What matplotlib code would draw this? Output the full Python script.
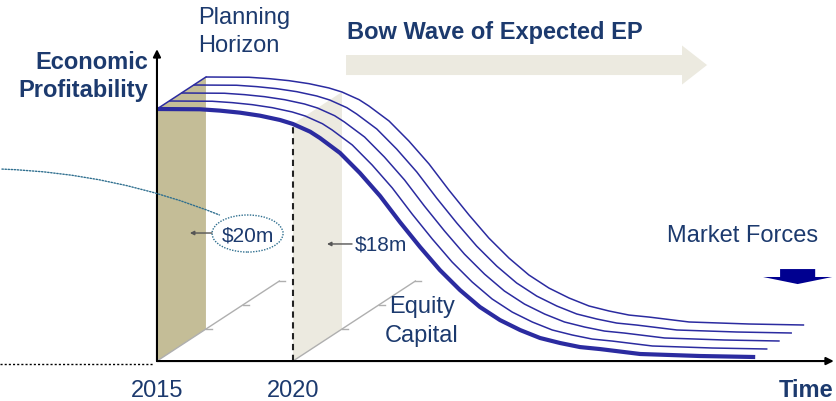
import numpy as np
import matplotlib
matplotlib.use("Agg")
import matplotlib.pyplot as plt
from matplotlib.patches import Polygon, Ellipse, FancyArrow, FancyArrowPatch

plt.rcParams["font.family"] = ["Liberation Sans", "DejaVu Sans"]

# Expected economic profit of the current equity base over time
years = [2015.0, 2016.58, 2017.32, 2018.05, 2018.79, 2019.52, 2020.0, 2020.63,
         2020.99, 2021.73, 2022.46, 2023.2, 2023.93, 2024.67, 2025.4, 2026.14,
         2026.87, 2027.61, 2028.35, 2029.08, 2029.82, 2030.55, 2031.29,
         2032.76, 2034.96, 2036.99]
ep_base = [20.0, 19.98, 19.87, 19.71, 19.47, 19.13, 18.81, 18.2, 17.7, 16.51,
           14.92, 13.1, 11.03, 9.05, 7.22, 5.63, 4.29, 3.25, 2.46, 1.83, 1.43,
           1.11, 0.95, 0.56, 0.4, 0.32]

# Additional equity capital layers (steps along the depth axis)
capital_levels = [0, 1, 2, 3, 4]
capital_ticks = [4, 7, 10]

# Year labels on the time axis
year_ticks = [2015, 2020]
value_labels = ["$20m", "$18m"]

# Oblique projection of one capital step (years, EP units)
STEP_X = 0.45
STEP_Y = 0.635

NAVY_TEXT = "#1C3A6E"
CURVE = "#2B2BA0"
TAN = "#C4BD97"
BEIGE = "#ECEAE0"
TEAL = "#2F6F8F"

fig = plt.figure(figsize=(8.36, 4.01), dpi=100)
ax = fig.add_axes([0, 0, 1, 1])
ax.set_xlim(2009.23, 2039.96)
ax.set_ylim(-3.17, 28.65)
ax.axis("off")

years_a = np.array(years)
ep_a = np.array(ep_base)
top = capital_levels[-1]


def shifted(x, y, level):
    return x + level * STEP_X, y + level * STEP_Y


# Planning-horizon slabs at 2015 and 2020
for yr, colour in zip(year_ticks, [TAN, BEIGE]):
    v = float(np.interp(yr, years_a, ep_a))
    pts = [(yr, 0), (yr, v), shifted(yr, v, top), shifted(yr, 0, top)]
    ax.add_patch(Polygon(pts, closed=True, facecolor=colour,
                         edgecolor="none", zorder=1))

# Depth (equity capital) axes with ticks
for yr in year_ticks:
    x_end, y_end = shifted(yr, 0, capital_ticks[-1])
    ax.plot([yr, x_end], [0, y_end], color="#AFAFAF", lw=1.0, zorder=2)
    for t in capital_ticks:
        tx, ty = shifted(yr, 0, t)
        ax.plot([tx, tx + 0.22], [ty, ty], color="#AFAFAF", lw=1.0, zorder=2)

# 2020 marker
v2020 = float(np.interp(2020, years_a, ep_a))
ax.plot([2020, 2020], [0, v2020], color="#222222", lw=1.5,
        ls=(0, (3, 2.2)), zorder=3)

# Profit curves for each capital layer
for lvl in capital_levels:
    xs, ys = shifted(years_a, ep_a, lvl)
    lw = 3.0 if lvl == 0 else 1.1
    ax.plot(xs, ys, color=CURVE, lw=lw, solid_joinstyle="round",
            solid_capstyle="butt", zorder=4)
sx, sy = shifted(years[0], ep_base[0], top)
ax.plot([years[0], sx], [ep_base[0], sy], color=CURVE, lw=1.1, zorder=4)

# Main axes with arrow heads
ax.annotate("", xy=(2039.88, 0), xytext=(2015, 0),
            arrowprops=dict(arrowstyle="-|>", color="black", lw=1.5,
                            mutation_scale=11, shrinkA=0, shrinkB=0),
            zorder=5)
ax.annotate("", xy=(2015, 24.75), xytext=(2015, 0),
            arrowprops=dict(arrowstyle="-|>", color="black", lw=1.5,
                            mutation_scale=11, shrinkA=0, shrinkB=0),
            zorder=5)
ax.plot([2009.23, 2014.85], [-0.24, -0.24], color="black", lw=1.0,
        ls=(0, (1.5, 1.5)), zorder=2)

# Bow wave arrow
ax.add_patch(FancyArrow(2021.95, 23.49, 13.27, 0, width=1.59,
                        head_width=3.1, head_length=0.92,
                        length_includes_head=True, color=BEIGE,
                        lw=0, zorder=1))

# Market forces arrow
ax.add_patch(FancyArrow(2038.55, 7.30, 0, -1.19, width=1.29,
                        head_width=2.54, head_length=0.56,
                        length_includes_head=True, color="#000090",
                        lw=0, zorder=5))

# Value call-outs
ax.add_patch(Ellipse((2018.33, 10.12), 2.61, 2.94, facecolor="none",
                     edgecolor=TEAL, lw=1.0, ls=(0, (1, 1)), zorder=5))
ax.add_patch(FancyArrowPatch((2009.2, 15.24), (2017.39, 11.51),
                             arrowstyle="-", connectionstyle="arc3,rad=-0.09",
                             color=TEAL, lw=1.0, ls=(0, (1, 1.2)), zorder=5))
for (x0, x1, y) in [(2017.02, 2016.21, 10.16), (2022.17, 2021.25, 9.29)]:
    ax.annotate("", xy=(x1, y), xytext=(x0, y),
                arrowprops=dict(arrowstyle="-|>", color="#555555", lw=1.0,
                                mutation_scale=6, shrinkA=0, shrinkB=0),
                zorder=5)
ax.text(2018.35, 9.52, value_labels[0], fontsize=15, color=NAVY_TEXT,
        ha="center", va="baseline", zorder=6)
ax.text(2022.28, 8.81, value_labels[1], fontsize=15, color=NAVY_TEXT,
        ha="left", va="baseline", zorder=6)

# Labels
txt = dict(color=NAVY_TEXT, va="baseline")
ax.text(2014.67, 23.17, "Economic", fontsize=17, fontweight="bold",
        ha="right", **txt)
ax.text(2014.67, 20.95, "Profitability", fontsize=17, fontweight="bold",
        ha="right", **txt)
ax.text(2016.51, 26.75, "Planning", fontsize=17, ha="left", **txt)
ax.text(2016.51, 24.52, "Horizon", fontsize=17, ha="left", **txt)
ax.text(2021.99, 25.56, "Bow Wave of Expected EP", fontsize=17,
        fontweight="bold", ha="left", **txt)
ax.text(2033.75, 9.44, "Market Forces", fontsize=17, ha="left", **txt)
ax.text(2024.74, 3.81, "Equity", fontsize=17, ha="center", **txt)
ax.text(2024.74, 1.51, "Capital", fontsize=17, ha="center", **txt)
ax.text(2039.85, -2.86, "Time", fontsize=17, fontweight="bold",
        ha="right", **txt)
for yr in year_ticks:
    ax.text(yr, -2.86, str(yr), fontsize=17, ha="center", **txt)

fig.savefig("out.png", dpi=100)
